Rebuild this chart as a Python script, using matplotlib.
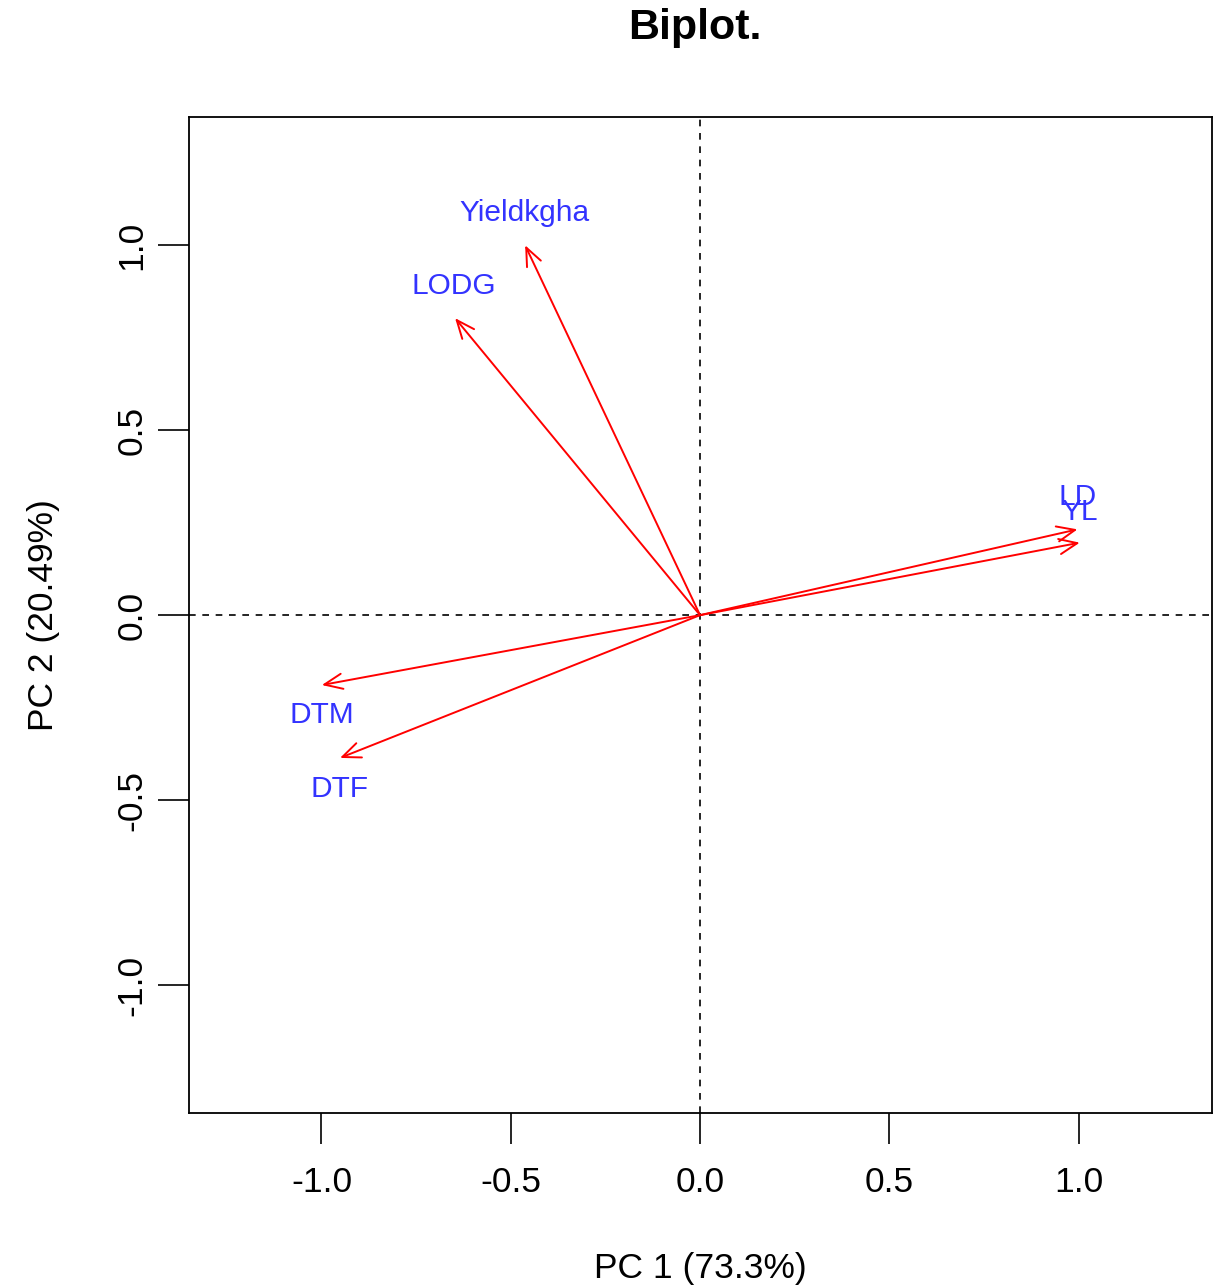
import matplotlib.pyplot as plt

plt.rcParams['font.family'] = ['Liberation Sans', 'DejaVu Sans']

# loadings (PC1, PC2)
variaveis = ["Yieldkgha", "LODG", "LD", "YL", "DTM", "DTF"]
pc1 = [-0.462, -0.647, 0.997, 1.003, -0.999, -0.951]
pc2 = [1.000, 0.803, 0.232, 0.196, -0.189, -0.386]
# label positions
rot_x = [-0.465, -0.65, 0.997, 1.003, -0.999, -0.951]
rot_y = [1.086, 0.889, 0.32, 0.28, -0.27, -0.47]

fig = plt.figure(figsize=(12.27, 12.88), dpi=100)
ax = fig.add_axes([0.154, 0.1359, 0.834, 0.773])

ax.axhline(0, color='black', ls=(0, (4, 4)), lw=1.2)
ax.axvline(0, color='black', ls=(0, (4, 4)), lw=1.2)

for x, y in zip(pc1, pc2):
    ax.annotate("", xy=(x, y), xytext=(0, 0),
                arrowprops=dict(arrowstyle="->,head_length=1.3,head_width=0.55",
                                color='red', lw=1.4, shrinkA=0, shrinkB=0))

for nome, x, y in zip(variaveis, rot_x, rot_y):
    ax.text(x, y, nome, color='#3333ff', fontsize=21.5, ha='center', va='center')

ax.set_xlim(-1.35, 1.353)
ax.set_ylim(-1.346, 1.346)
ax.set_xticks([-1.0, -0.5, 0.0, 0.5, 1.0])
ax.set_yticks([-1.0, -0.5, 0.0, 0.5, 1.0])
ax.set_xticklabels(["-1.0", "-0.5", "0.0", "0.5", "1.0"])
ax.set_yticklabels(["-1.0", "-0.5", "0.0", "0.5", "1.0"], rotation=90, va='center')
ax.tick_params(direction='out', length=22, width=1.2, labelsize=25.5)
ax.tick_params(axis='x', pad=16)
ax.tick_params(axis='y', pad=7)
for s in ax.spines.values():
    s.set_linewidth(1.3)

ax.set_xlabel("PC 1 (73.3%)", fontsize=25.5, labelpad=38)
ax.set_ylabel("PC 2 (20.49%)", fontsize=25.5, labelpad=40)
fig.text(0.566, 0.978, "Biplot.", fontsize=31, fontweight='bold', ha='center', va='center')

fig.savefig("out.png", dpi=100)
